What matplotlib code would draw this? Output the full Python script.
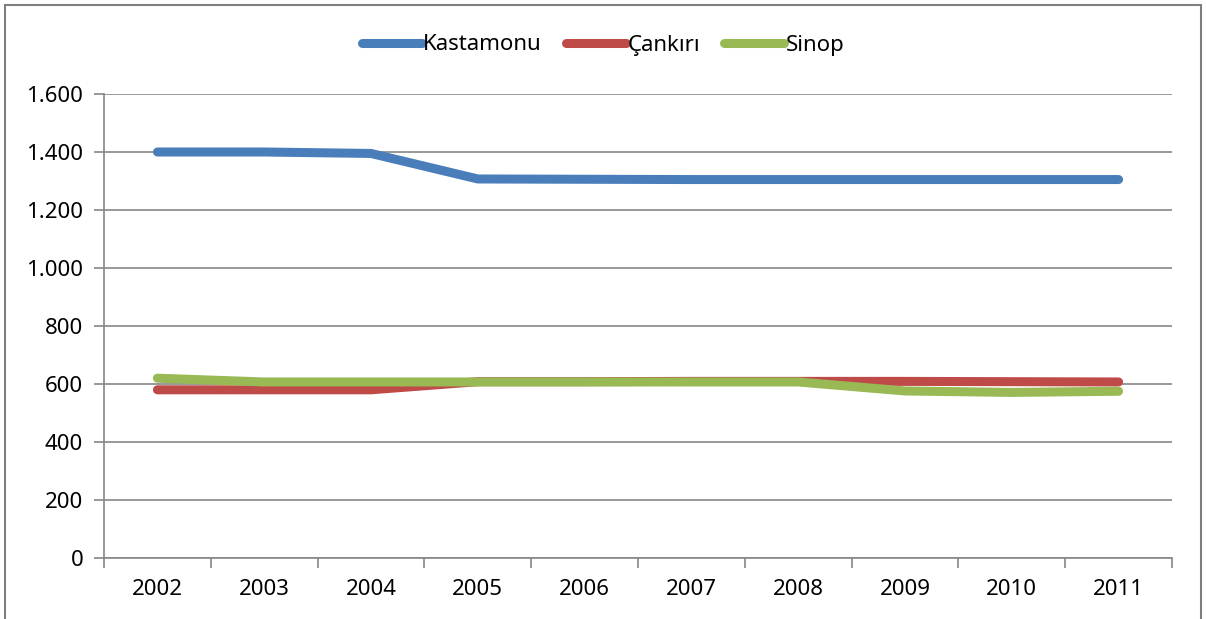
import numpy as np
import matplotlib.pyplot as plt
from matplotlib.patches import Rectangle

plt.rcParams['font.family'] = ['Noto Sans', 'DejaVu Sans']

years = ['2002', '2003', '2004', '2005', '2006', '2007', '2008', '2009', '2010', '2011']
kastamonu = [1400, 1400, 1395, 1307, 1306, 1305, 1305, 1305, 1305, 1305]
cankiri = [580, 580, 580, 608, 608, 609, 609, 609, 608, 607]
sinop = [620, 607, 607, 607, 607, 607, 607, 576, 571, 575]

series_names = ['Kastamonu', 'Çankırı', 'Sinop']
series_colors = ['#4A7EBB', '#BE4B48', '#98B954']

fig = plt.figure(figsize=(12.06, 6.19), dpi=100)
ax = fig.add_axes([104 / 1206, 1 - 558 / 619, (1172 - 104) / 1206, (558 - 94) / 619])

x = np.arange(len(years))
for vals, name, col in zip([kastamonu, cankiri, sinop], series_names, series_colors):
    ax.plot(x, vals, color=col, linewidth=6.5, solid_capstyle='round',
            solid_joinstyle='round', label=name)

ax.set_xlim(-0.5, len(years) - 0.5)
ax.set_ylim(0, 1600)
ax.set_yticks(np.arange(0, 1601, 200))
ax.set_yticklabels(['0', '200', '400', '600', '800', '1.000', '1.200', '1.400', '1.600'])
ax.set_xticks(x)
ax.set_xticklabels(years)
ax.set_xticks(np.arange(-0.5, len(years), 1), minor=True)

grid_col = '#868686'
ax.yaxis.grid(True, color=grid_col, linewidth=1.2)
ax.set_axisbelow(True)
for side in ['top', 'right']:
    ax.spines[side].set_visible(False)
for side in ['left', 'bottom']:
    ax.spines[side].set_color(grid_col)
    ax.spines[side].set_linewidth(1.2)

ax.tick_params(axis='y', length=7, width=1.2, color=grid_col, labelsize=16, pad=8)
ax.tick_params(axis='x', which='major', length=0, labelsize=16, pad=15)
ax.tick_params(axis='x', which='minor', length=7, width=1.2, color=grid_col)

ax.legend(loc='center', bbox_to_anchor=(0.5, 1 - 45 / 619), bbox_transform=fig.transFigure,
          ncol=3, frameon=False, fontsize=16, handlelength=2.7, handletextpad=0.05,
          columnspacing=1.1)

# outer frame of the chart area
fig.patches.append(Rectangle((4.5 / 1206, -0.01), 1196 / 1206, 1 - 4.5 / 619 + 0.01,
                             transform=fig.transFigure, fill=False,
                             edgecolor='#7f7f7f', linewidth=1.5))

fig.savefig('out.png', dpi=100)
